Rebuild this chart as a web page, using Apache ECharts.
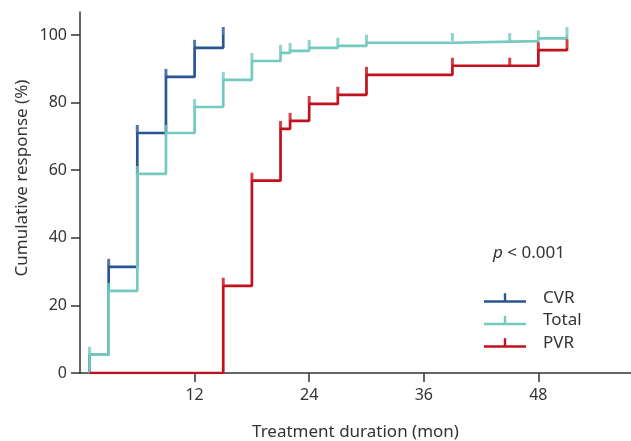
<!DOCTYPE html>
<html>
<head>
<meta charset="utf-8">
<script src="https://cdn.jsdelivr.net/npm/echarts@6/dist/echarts.min.js"></script>
<style>html,body{margin:0;padding:0;background:#fff}#c{width:631px;height:441px}</style>
</head>
<body>
<div id="c"></div>
<script>
// ---- data ----
const cvrTimes   = [1, 1, 3, 6, 9, 12, 15];
const cvrValues  = [0, 5.4, 31.4, 71.0, 87.6, 96.2, 100];
const cvrCensor  = [3, 6, 9, 12, 15];

const totalTimes  = [1, 1, 3, 6, 9, 12, 15, 18, 21, 22, 24, 27, 30, 39, 48, 51];
const totalValues = [0, 5.4, 24.3, 58.9, 71.0, 78.7, 86.7, 92.3, 94.7, 95.3, 96.2, 96.8, 97.7, 98.2, 99.0, 100];
const totalCensor = [1, 3, 6, 9, 12, 15, 18, 21, 22, 24, 27, 30, 39, 45, 48, 51];

const pvrTimes   = [1, 15, 15, 18, 21, 22, 24, 27, 30, 39, 48, 51];
const pvrValues  = [0, 0, 25.8, 56.9, 72.2, 74.6, 79.6, 82.3, 88.2, 90.9, 95.5, 96.4];
const pvrCensor  = [15, 18, 21, 22, 24, 27, 30, 39, 45, 48, 51];

const xTicks = [12, 24, 36, 48];
const yTicks = [0, 20, 40, 60, 80, 100];

const seriesNames = ['CVR', 'Total', 'PVR'];
const colors = { CVR: '#2a5593', Total: '#74c9c0', PVR: '#c2111e' };

// ---- helpers ----
function pairs(t, v) { return t.map((x, i) => [x, v[i]]); }
function levelAt(t, v, time) {
  let lv = v[0];
  for (let i = 0; i < t.length; i++) if (t[i] <= time) lv = v[i];
  return lv;
}
function censor(t, v, c) { return c.map(x => [x, levelAt(t, v, x)]); }

const sets = {
  CVR: [cvrTimes, cvrValues, cvrCensor],
  Total: [totalTimes, totalValues, totalCensor],
  PVR: [pvrTimes, pvrValues, pvrCensor]
};

const series = [];
seriesNames.forEach(n => {
  const [t, v, c] = sets[n];
  series.push({
    name: n, type: 'line', step: 'end', data: pairs(t, v),
    showSymbol: false, symbol: 'none',
    lineStyle: { color: colors[n], width: 2.7 },
    itemStyle: { color: colors[n] },
    animation: false, z: 2
  });
  series.push({
    name: n, type: 'scatter', data: censor(t, v, c),
    symbol: 'rect', symbolSize: [3, 8], symbolOffset: [0, -4],
    itemStyle: { color: colors[n] },
    animation: false, z: 3
  });
});

const iconPath = 'path://M19.8,0 L22.2,0 L22.2,7 L42,7 L42,9.5 L0,9.5 L0,7 L19.8,7 Z';

const chart = echarts.init(document.getElementById('c'), null, { renderer: 'canvas' });
const font = 'Noto Sans';
chart.setOption({
  animation: false,
  grid: { left: 80, right: 0, top: 12, bottom: 68, containLabel: false, outerBoundsMode: 'none' },
  xAxis: {
    type: 'value', min: 0, max: 57.7,
    name: 'Treatment duration (mon)', nameLocation: 'middle', nameGap: 51,
    nameTextStyle: { fontFamily: font, fontSize: 17, color: '#333' },
    axisLine: { show: true, lineStyle: { color: '#333', width: 1.5 } },
    axisTick: { show: true, length: 9, lineStyle: { color: '#333', width: 1.5 },
      customValues: xTicks },
    axisLabel: { fontFamily: font, fontSize: 16, color: '#333', margin: 14,
      customValues: xTicks },
    splitLine: { show: false }
  },
  yAxis: {
    type: 'value', min: 0, max: 106.8, interval: 20,
    axisLine: { show: true, lineStyle: { color: '#333', width: 1.5 } },
    axisTick: { show: true, length: 9, lineStyle: { color: '#333', width: 1.5 },
      customValues: yTicks },
    axisLabel: { fontFamily: font, fontSize: 16, color: '#333', margin: 13,
      customValues: yTicks },
    splitLine: { show: false }
  },
  legend: {
    orient: 'vertical', left: 484, top: 287, padding: 0,
    itemWidth: 42, itemHeight: 9.5, itemGap: 0.5,
    data: seriesNames.map(n => ({ name: n, icon: iconPath })),
    textStyle: { fontFamily: font, fontSize: 17, lineHeight: 16, color: '#333', padding: [6, 0, 0, 12] },
    selectedMode: false
  },
  graphic: [{
    type: 'text', x: 493, y: 253,
    style: {
      text: '{i|p} < 0.001',
      verticalAlign: 'middle',
      rich: {
        i: { fontFamily: font, fontStyle: 'italic', fontSize: 17, fill: '#333' }
      },
      font: '17px "Noto Sans"', fill: '#333'
    }
  }, {
    type: 'text', x: 22, y: 178, rotation: Math.PI / 2,
    style: {
      text: 'Cumulative response (%)',
      align: 'center', verticalAlign: 'middle',
      font: '17px "Noto Sans"', fill: '#333'
    }
  }],
  series: series
});
</script>
</body>
</html>
